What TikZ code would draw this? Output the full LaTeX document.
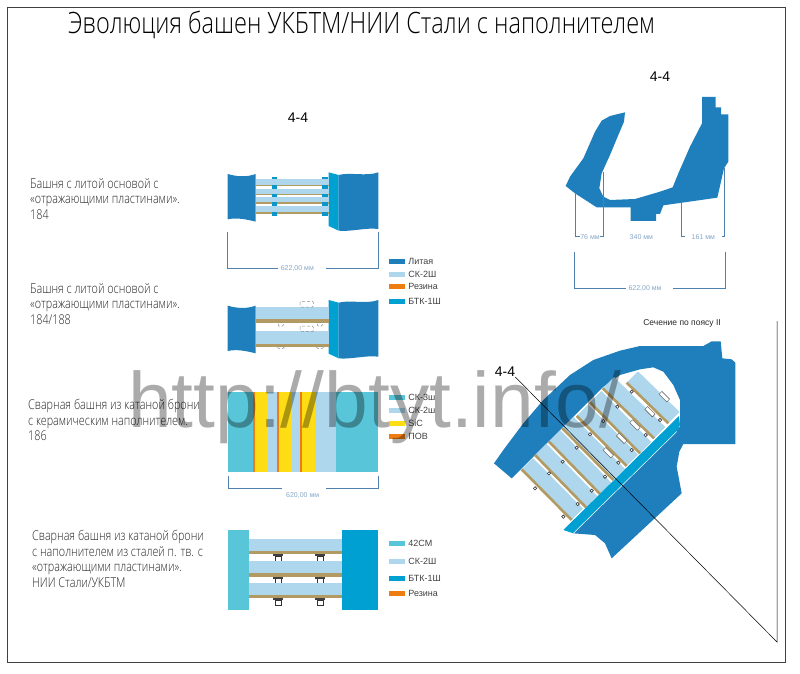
\documentclass[tikz,border=0pt]{standalone}
\usepackage{fontspec}
\setmainfont{Liberation Sans}
\newfontfamily\gostfont[FakeStretch=0.8]{Open Sans Light}
\usetikzlibrary{positioning}
\definecolor{lityblue}{HTML}{1F7FBC}
\definecolor{platecol}{HTML}{AED6EC}
\definecolor{btkcol}{HTML}{00A0D2}
\definecolor{tealcol}{HTML}{58C6D8}
\definecolor{sicol}{HTML}{FFDD15}
\definecolor{orangecol}{HTML}{EE7D11}
\definecolor{rubbercol}{HTML}{B39A62}
\definecolor{dimcol}{HTML}{4F80AE}
\tikzset{
    lbl/.style={font=\gostfont\fontsize{13.5}{15.5}\selectfont,anchor=north west,align=left,inner sep=0pt,text=black!85},
    section/.style={font=\fontsize{14}{16}\selectfont,inner sep=0pt},
    swatch/.style={minimum width=16pt,minimum height=5pt,inner sep=0pt},
    legtext/.style={font=\fontsize{9}{10}\selectfont,inner sep=0pt,text=black!75},
    dimline/.style={draw=dimcol,line width=0.6pt},
    dimtext/.style={font=\fontsize{7}{8}\selectfont,text=dimcol!70,inner sep=0pt,minimum height=6pt},
    bolt/.style={draw=black!80,fill=white,line width=0.6pt}
}
\begin{document}
\begin{tikzpicture}[x=1pt,y=-1pt]
        \useasboundingbox (0,0) rectangle (800,674);
        %% frame and title
        \draw[black!75,line width=0.8pt] (7,7) rectangle (785,662);
        \node[inner sep=0pt,anchor=west,font=\gostfont\fontsize{29.4}{32}\selectfont] (title) at (68,25) {Эволюция башен УКБТМ/НИИ Стали с наполнителем};
        %% side labels
        \node[lbl] (txtA) at (30,178) {Башня с литой основой с\\«отражающими пластинами».\\184};
        \node[lbl] (txtB) at (30,283) {Башня с литой основой с\\«отражающими пластинами».\\184/188};
        \node[lbl] (txtC) at (28,399) {Сварная башня из катаной брони\\с керамическим наполнителем.\\186};
        \node[lbl] (txtD) at (32,530) {Сварная башня из катаной брони\\с наполнителем из сталей п. тв. с\\«отражающими пластинами».\\НИИ Стали/УКБТМ};
        %% section labels
        \node[section] (secA) at (298,118) {4-4};
        \node[section] (secB) at (660,77) {4-4};
        \node[section] (secC) at (505,372) {4-4};
        \node[font=\fontsize{8.5}{10}\selectfont,inner sep=0pt,text=black!85] (belt) at (682,323) {Сечение по поясу II};
        %% cast turrets with reflecting plates
        \begin{scope}[shift={(210,160)},scale=1/3]
            \foreach \dl/\dr in {0/0,395/383} {
                \fill[lityblue] (53,42+\dl) .. controls (80,50+\dl) and (110,52+\dl) .. (137,42+\dl) -- (137,185+\dl) .. controls (110,178+\dl) and (80,172+\dl) .. (53,178+\dl) -- cycle;
                \fill[btkcol] (356,37+\dr) -- (386,45+\dr) -- (386,212+\dr) -- (356,198+\dr) -- cycle;
                \fill[lityblue] (386,45+\dr) .. controls (420,36+\dr) and (470,50+\dr) .. (505,37+\dr) -- (505,207+\dr) .. controls (470,202+\dr) and (420,216+\dr) .. (386,212+\dr) -- cycle;
            }
            \foreach \ya/\yb/\yc in {57/75/78,87/103/106,110/127/131,137/155/161} {
                \fill[platecol] (137,\ya) rectangle (356,\yb);
                \fill[rubbercol] (137,\yb) rectangle (356,\yc);
            }
            \foreach \ya/\yb in {50/57,75/87,103/110,127/137,155/168} {
                \fill[btkcol!70!lityblue] (185,\ya) rectangle (201,\yb);
                \fill[btkcol!70!lityblue] (337,\ya) rectangle (353,\yb);
            }
            \foreach \ya/\yb/\yc in {441/476/488,513/552/560} {
                \fill[platecol] (137,\ya) rectangle (356,\yb);
                \fill[rubbercol] (137,\yb) rectangle (356,\yc);
            }
            \foreach \xa/\ya/\xb/\yb in {270/424/310/441,270/498/310/515,205/488/220/498,322/488/337/498,203/560/222/565,320/560/340/565} {
                \draw[black!45,densely dashed,line width=0.5pt,rounded corners=1pt] (\xa,\ya) rectangle (\xb,\yb);
            }
            \node[minimum width=47pt,inner sep=0pt] (dimA) at (276,326) {};
            \node[dimtext] (dimAtxt) at (262,326) {622,00 мм};
            \coordinate (dimAl) at (52,215);
            \coordinate (dimAr) at (505,215);
            \draw[dimline] (dimAl) |- (dimA.west);
            \draw[dimline] (dimAr) |- (dimA.east);
        \end{scope}
        %% welded turret with ceramic filler
        \begin{scope}[shift={(210,380)},scale=1/3]
            \foreach \xa/\xb/\col in {55/128/tealcol,128/135/orangecol,135/175/sicol,175/202/platecol,202/206/orangecol,206/245/sicol,245/270/platecol,270/276/orangecol,276/315/sicol,315/378/platecol,378/505/tealcol} {
                \fill[\col] (\xa,35) rectangle (\xb,275);
            }
            \node[minimum width=43pt,inner sep=0pt] (dimB) at (282,325) {};
            \node[dimtext] (dimBtxt) at (278,346) {620,00 мм};
            \coordinate (dimBl) at (55,287);
            \coordinate (dimBr) at (505,287);
            \draw[dimline] (dimBl) |- (dimB.west);
            \draw[dimline] (dimBr) |- (dimB.east);
        \end{scope}
        %% welded turret with reflecting plates
        \begin{scope}[shift={(210,380)},scale=1/3]
            \fill[tealcol] (55,450) rectangle (117,690);
            \fill[btkcol] (397,450) rectangle (505,690);
            \foreach \ya/\yb/\yc in {477/512/523,544/578/590,610/644/655} {
                \fill[platecol] (117,\ya) rectangle (397,\yb);
                \fill[rubbercol] (117,\yb) rectangle (397,\yc);
                \foreach \xc in {204,330} {
                    \draw[bolt] (\xc-9,\yc+5) rectangle (\xc+9,\yc+22);
                    \fill[black!75] (\xc-15,\yc) rectangle (\xc+15,\yc+6);
                }
            }
        \end{scope}
        %% legends
        \foreach \nm/\col/\ypos/\txt in {a/lityblue/261.7/Литая,b/platecol/274.3/СК-2Ш,c/orangecol/286.7/Резина,d/btkcol/301/БТК-1Ш,e/tealcol/397/СК-3ш,f/platecol/410.7/СК-2ш,g/sicol/423.3/SiC,h/orangecol/436.7/ПОВ,i/tealcol/543.7/42СМ,j/platecol/561/СК-2Ш,k/btkcol/578.7/БТК-1Ш,l/orangecol/593.7/Резина} {
            \node[swatch,fill=\col] (sw\nm) at (397,\ypos) {};
            \node[legtext,right=3pt of sw\nm] (leg\nm) {\txt};
        }
        %% section through the cast turret
        \begin{scope}[shift={(550,60)},scale=1/3]
            \fill[lityblue] (225,157) -- (180,168) -- (155,182) -- (135,215) -- (100,295) -- (60,350) -- (47,378) -- (75,400) -- (140,442) -- (242,442) -- (242,483) -- (318,483) -- (318,462) -- (330,462) -- (340,436) -- (502,413) -- (522,325) -- (535,305) -- (535,163) -- (513,163) -- (513,142) -- (497,142) -- (497,111) -- (456,111) -- (456,190) -- (420,260) -- (385,340) -- (368,382) -- (330,395) -- (255,417) -- (180,420) -- (160,410) -- (148,385) -- (155,340) -- (180,285) -- (205,225) -- (222,185) -- cycle;
            \node[dimtext,minimum width=20pt] (dimC) at (120,530) {76 мм};
            \node[dimtext] (dimD) at (274,530) {340 мм};
            \node[dimtext,minimum width=37pt] (dimE) at (460,530) {161 мм};
            \node[minimum width=47pt,inner sep=0pt] (dimF) at (298,686) {};
            \node[dimtext] (dimFtxt) at (285,686) {622,00 мм};
            \coordinate (dimCl) at (77,400);
            \coordinate (dimCr) at (160,335);
            \coordinate (dimEl) at (395,430);
            \coordinate (dimEr) at (523,325);
            \coordinate (dimFl) at (72,575);
            \coordinate (dimFr) at (525,575);
            \draw[dimline] (dimCl) |- (dimC.west);
            \draw[dimline] (dimCr) |- (dimC.east);
            \draw[dimline] (dimEl) |- (dimE.west);
            \draw[dimline] (dimEr) |- (dimE.east);
            \draw[dimline] (dimFl) |- (dimF.west);
            \draw[dimline] (dimFr) |- (dimF.east);
        \end{scope}
        %% section through the belt
        \begin{scope}[shift={(480,310)},scale=1/3]
            \fill[lityblue] (42,460) -- (70,420) -- (130,340) -- (190,270) -- (270,195) -- (340,150) -- (420,122) -- (480,108) -- (670,108) -- (695,94) -- (722,94) -- (727,145) -- (755,148) -- (766,158) -- (766,402) -- (610,402) -- (598,425) -- (590,470) -- (605,550) -- (395,745) -- (375,700) -- (345,675) -- (280,670) -- (600,350) -- (600,270) -- (580,225) -- (550,185) -- (520,172) -- (480,178) -- (420,195) -- (368,232) -- (95,505) -- cycle;
            %% plates, rubber and bolts
            \foreach \xa/\ya/\xb/\yb in {125/478/275/630,165/435/318/592,207/395/360/552,247/355/400/510,290/318/440/468,330/277/480/430,368/235/522/385,440/218/565/340} {
                \fill[platecol] (\xa,\ya) -- (\xb,\yb) -- ({\xb+34},{\yb-34}) -- ({\xa+34},{\ya-34}) -- cycle;
                \draw[rubbercol,line width=2.6pt] (\xa,\ya) -- (\xb,\yb);
                \draw[bolt] ({\xb-25},{\yb-10}) circle (5);
            }
            \foreach \bx/\by in {165/535,207/490,248/455,290/413,330/373,370/333,412/290,455/245} {
                \draw[bolt] (\bx,\by) circle (5);
            }
            \foreach \bx/\by in {553/260,510/305,465/345,425/385,385/428} {
                \draw[black!70,fill=white,line width=0.4pt,rotate around={-45:(\bx,\by)}] (\bx-16,\by-6) rectangle (\bx+16,\by+6);
            }
            \fill[btkcol] (250,660) -- (597,318) -- (600,345) -- (590,365) -- (280,670) -- cycle;
            \draw[white,line width=0.5pt] (280,670) -- (590,365);
        \end{scope}
        %% cutting line
        \coordinate (cutEnd) at (777,642);
        \coordinate (cutTop) at (777,321);
        \draw[black,line width=0.5pt] (secC.south east) -- (cutEnd) -- (cutTop);
        %% watermark
        \node[anchor=base west,inner sep=0pt,font=\fontsize{78.5}{90}\selectfont,text=black,opacity=0.33] (mark) at (128,427) {http://btyt.info/};
    \end{tikzpicture}
\end{document}
